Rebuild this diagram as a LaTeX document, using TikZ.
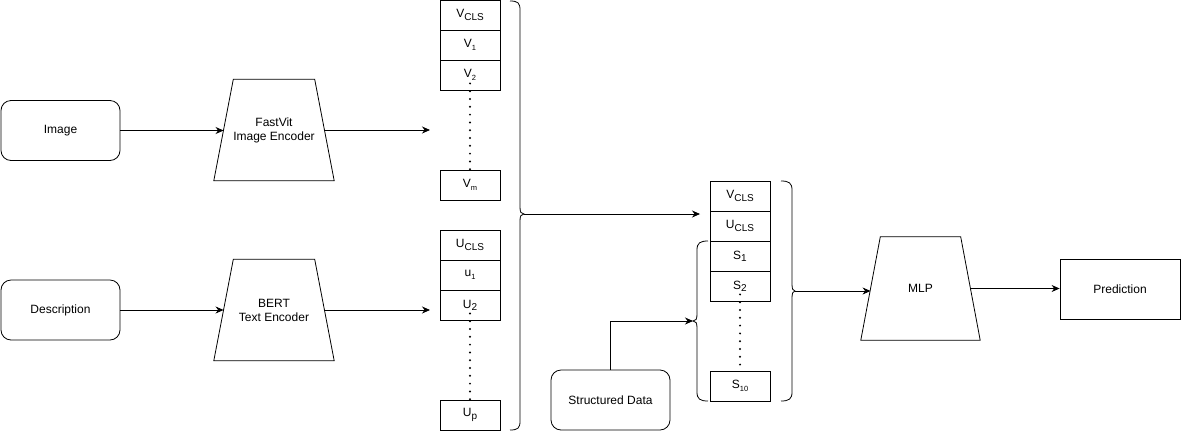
\documentclass[tikz,border=0pt]{standalone}
\usepackage{fontspec}
\setmainfont{Liberation Sans}
\usetikzlibrary{arrows.meta}
\newcommand\lsub[1]{\raisebox{-0.35ex}{\fontsize{10}{10}\selectfont #1}}
\newcommand\ssub[1]{\raisebox{-0.45ex}{\fontsize{7.5}{7.5}\selectfont #1}}
\tikzset{
 base/.style={draw, line width=0.8pt, font=\fontsize{12}{14}\selectfont, align=center, inner sep=0pt},
 rbox/.style={base, rounded corners=10pt, minimum width=119pt, minimum height=60pt},
 enc/.style={font=\fontsize{12}{14}\selectfont, align=center, inner sep=0pt, minimum width=120pt, minimum height=101pt},
 trap/.style={line width=0.8pt},
 cell/.style={base, minimum width=60pt, minimum height=30pt},
 dots/.style={line width=2.2pt, line cap=round, dash pattern=on 0pt off 7.8pt},
 arr/.style={line width=0.8pt, -{Stealth[length=8pt,width=7pt]}},
 bracestyle/.style={line width=0.8pt},
}
\begin{document}
\begin{tikzpicture}[x=1pt,y=-1pt]
\useasboundingbox (0,0) rectangle (1181,432);
% inputs
\node[rbox] (img) at (60.5,130.5) {Image};
\node[rbox] (desc) at (60.5,310) {Description};
\node[rbox] (sd) at (610.5,400) {Structured Data};
% encoders
\node[enc] (fv) at (274,130) {FastVit\\Image Encoder};
\node[enc] (bert) at (274,310) {BERT\\Text Encoder};
\node[enc, minimum width=119pt, minimum height=103pt] (mlp) at (920.5,288.5) {MLP};
\foreach \n in {fv,bert,mlp}{
  \draw[trap] (\n.south west) -- ([xshift=19.5pt]\n.north west) -- ([xshift=-19.5pt]\n.north east) -- (\n.south east) -- cycle;
}
\node[base, minimum width=120pt, minimum height=60pt] (pred) at (1120,289) {Prediction};
% V stack
\node[cell] (vcls) at (470,15) {V\lsub{CLS}};
\node[cell] (v1) at (470,45) {V\ssub{1}};
\node[cell] (v2) at (470,75) {V\ssub{2}};
\node[cell] (vm) at (470,185) {V\ssub{m}};
\draw[dots] ([yshift=7pt]v2.south) -- (vm.north);
% U stack
\node[cell] (ucls) at (470,245) {U\lsub{CLS}};
\node[cell] (u1) at (470,275) {u\ssub{1}};
\node[cell] (u2) at (470,305) {U\lsub{2}};
\node[cell] (up) at (470,415) {U\lsub{p}};
\draw[dots] ([yshift=7pt]u2.south) -- (up.north);
% combined stack
\node[cell] (cv) at (740,196) {V\lsub{CLS}};
\node[cell] (cu) at (740,226) {U\lsub{CLS}};
\node[cell] (s1) at (740,256) {S\lsub{1}};
\node[cell] (s2) at (740,286) {S\lsub{2}};
\node[cell] (s10) at (740,386) {S\ssub{10}};
\draw[dots] ([yshift=7pt]s2.south) -- (s10.north);
% braces
\draw[bracestyle] (510,1) .. controls (518,1) and (520,3) .. (520,10) -- (520,207)
  .. controls (520,212) and (521,214) .. (524,214)
  .. controls (521,214) and (520,216) .. (520,221) -- (520,421)
  .. controls (520,428) and (518,430) .. (510,430);
\coordinate (bigtip) at (524,214);
\draw[bracestyle] (781,181) .. controls (789,181) and (792,183) .. (792,190) -- (792,284)
  .. controls (792,289) and (793,291) .. (795,291)
  .. controls (793,291) and (792,293) .. (792,298) -- (792,392)
  .. controls (792,399) and (789,401) .. (781,401);
\coordinate (rtip) at (795,291);
\draw[bracestyle] (708,241) .. controls (700,241) and (697,243) .. (697,250) -- (697,314)
  .. controls (697,319) and (696,321) .. (693,321)
  .. controls (696,321) and (697,323) .. (697,328) -- (697,392)
  .. controls (697,399) and (700,401) .. (708,401);
\coordinate (stip) at (693,321);
% free arrow ends
\coordinate (vin) at (430,130);
\coordinate (uin) at (430,310);
\coordinate (cin) at (700,214);
% connectors
\draw[arr] (img.east) -- ([xshift=9.75pt]img.east -| fv.west);
\draw[arr] (desc.east) -- ([xshift=9.75pt]desc.east -| bert.west);
\draw[arr] ([xshift=-9.75pt]fv.east) -- (vin);
\draw[arr] ([xshift=-9.75pt]bert.east) -- (uin);
\draw[arr] (bigtip) -- (cin);
\draw[arr] (sd.north) |- (stip);
\draw[arr] (rtip) -- ([xshift=9.75pt]rtip -| mlp.west);
\draw[arr] ([xshift=-9.75pt]mlp.east) -- (mlp.east -| pred.west);
\end{tikzpicture}
\end{document}
